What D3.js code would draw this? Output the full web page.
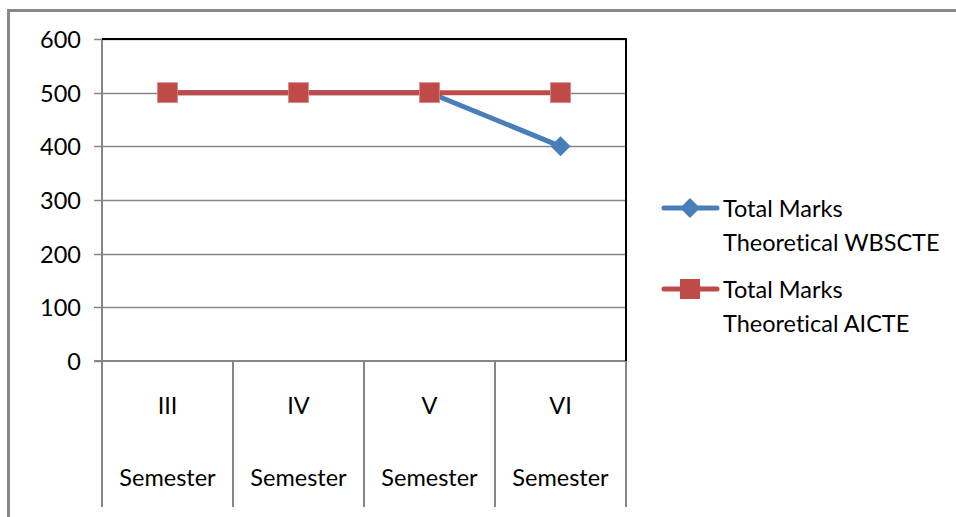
<!DOCTYPE html>
<html><head><meta charset="utf-8">
<script src="https://cdn.jsdelivr.net/npm/d3@7"></script>
<style>body{margin:0;background:#fff}svg{display:block}text{font-family:Lato,sans-serif;fill:#000;font-variant-ligatures:none;font-feature-settings:"liga" 0}</style>
</head><body>
<svg id="c" width="956" height="517"></svg>
<script>
const categories = ["III", "IV", "V", "VI"];
const categorySub = "Semester";
const wbscte = [500, 500, 500, 400];
const aicte = [500, 500, 500, 500];
const seriesNames = [["Total Marks", "Theoretical WBSCTE"], ["Total Marks", "Theoretical AICTE"]];
const yTicks = [0, 100, 200, 300, 400, 500, 600];

const FS = 23.5;
const svg = d3.select("#c");
const L = 102, R = 626, T = 39, B = 361;
const x = d3.scaleBand().domain(categories).range([L, R]);
const y = d3.scaleLinear().domain([0, 600]).range([B, T]);

// outer border
svg.append("path").attr("d", "M8.5,517 V10.5 H956").attr("fill", "none").attr("stroke", "#888").attr("stroke-width", 3);

// gridlines
svg.append("g").selectAll("line").data(yTicks.filter(d => d > 0)).join("line")
  .attr("x1", L).attr("x2", R).attr("y1", d => Math.round(y(d)) + 0.5).attr("y2", d => Math.round(y(d)) + 0.5)
  .attr("stroke", "#868686").attr("stroke-width", 1.5);

// y axis
const ya = svg.append("g").attr("transform", `translate(${L},0)`)
  .call(d3.axisLeft(y).tickValues(yTicks).tickSize(8).tickPadding(13));
ya.attr("font-family", null).attr("font-size", null);
ya.select(".domain").remove();
ya.selectAll("line").attr("stroke", "#868686").attr("stroke-width", 1.5);
ya.selectAll("text").attr("font-size", FS).attr("fill", "#000").attr("dy", "0.35em");
ya.selectAll(".tick").attr("transform", d => `translate(0,${Math.round(y(d)) + 0.5})`);

// left axis line
svg.append("line").attr("x1", L).attr("x2", L).attr("y1", T).attr("y2", 507).attr("stroke", "#868686").attr("stroke-width", 2);
// x axis line
svg.append("line").attr("x1", L - 8).attr("x2", R).attr("y1", B).attr("y2", B).attr("stroke", "#868686").attr("stroke-width", 2);
// category separators
svg.append("g").selectAll("line").data(categories.slice(1).concat(["__end"])).join("line")
  .attr("x1", (d, i) => i < 3 ? x(d) : R).attr("x2", (d, i) => i < 3 ? x(d) : R)
  .attr("y1", B).attr("y2", 507).attr("stroke", "#868686").attr("stroke-width", 2);
// top & right black border
svg.append("path").attr("d", `M${L},${T} H${R} V${B}`).attr("fill", "none").attr("stroke", "#000").attr("stroke-width", 2);

// category labels
const cx = d => x(d) + x.bandwidth() / 2;
svg.append("g").selectAll("text").data(categories).join("text")
  .attr("x", cx).attr("y", 414).attr("text-anchor", "middle").attr("font-size", FS).text(d => d);
svg.append("g").selectAll("text").data(categories).join("text")
  .attr("x", cx).attr("y", 486).attr("text-anchor", "middle").attr("font-size", FS).text(categorySub);

const line = d3.line().x((d, i) => cx(categories[i])).y(d => y(d));
const blue = "#4a7ebb", red = "#be4b48";
// blue series
svg.append("path").datum(wbscte).attr("d", line).attr("fill", "none").attr("stroke", blue).attr("stroke-width", 5).attr("stroke-linecap", "round");
const diamond = (cxv, cyv, s) => `M${cxv},${cyv - s} L${cxv + s},${cyv} L${cxv},${cyv + s} L${cxv - s},${cyv} Z`;
svg.append("g").selectAll("path").data(wbscte).join("path")
  .attr("d", (d, i) => diamond(cx(categories[i]), y(d), 10)).attr("fill", blue);
// red series
svg.append("path").datum(aicte).attr("d", line).attr("fill", "none").attr("stroke", red).attr("stroke-width", 5);
svg.append("g").selectAll("rect").data(aicte).join("rect")
  .attr("x", (d, i) => cx(categories[i]) - 10).attr("y", d => y(d) - 10).attr("width", 20).attr("height", 20)
  .attr("fill", red).attr("stroke", "#d88a88").attr("stroke-width", 0.8);

// legend
const lg = [{c: blue, t: seriesNames[0], y: 208, m: "d"}, {c: red, t: seriesNames[1], y: 289, m: "s"}];
lg.forEach(e => {
  svg.append("line").attr("x1", 664).attr("x2", 717).attr("y1", e.y).attr("y2", e.y).attr("stroke", e.c).attr("stroke-width", 5).attr("stroke-linecap", "round");
  if (e.m === "d") svg.append("path").attr("d", diamond(690, e.y, 10)).attr("fill", e.c);
  else svg.append("rect").attr("x", 680).attr("y", e.y - 10).attr("width", 20).attr("height", 20).attr("fill", e.c);
  svg.append("text").attr("x", 723).attr("y", e.y + 9).attr("font-size", FS).text(e.t[0]);
  svg.append("text").attr("x", 723).attr("y", e.y + 43).attr("font-size", FS).text(e.t[1]);
});
</script>
</body></html>
